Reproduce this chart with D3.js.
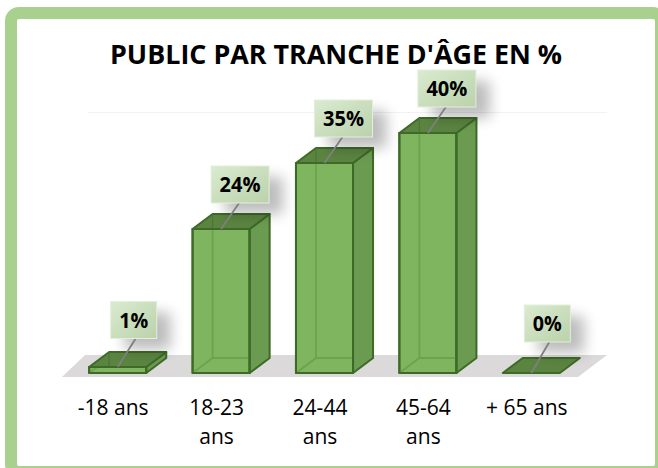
<!DOCTYPE html>
<html><head><meta charset="utf-8">
<script src="https://cdnjs.cloudflare.com/ajax/libs/d3/7.8.5/d3.min.js"></script>
<style>html,body{margin:0;padding:0;background:#fff}svg{display:block}</style>
</head><body><div id="chart"></div>
<script>
const titleText = "PUBLIC PAR TRANCHE D'ÂGE EN %";
const categories = ["-18 ans", "18-23 ans", "24-44 ans", "45-64 ans", "+ 65 ans"];
const categoryLines = [["-18 ans"], ["18-23", "ans"], ["24-44", "ans"], ["45-64", "ans"], ["+ 65 ans"]];
const values = [1, 24, 35, 40, 0];
const gridTicks = [40];

const W = 658, H = 468, dx = 20, dy = 15;
const FONT = "'Open Sans', 'Noto Sans', sans-serif";

const svg = d3.select("#chart").append("svg").attr("width", W).attr("height", H);
const defs = svg.append("defs");
const grad = defs.append("linearGradient").attr("id", "boxFill")
  .attr("x1", 0).attr("y1", 0).attr("x2", 1).attr("y2", 1);
grad.append("stop").attr("offset", 0).attr("stop-color", "#DAEBD0");
grad.append("stop").attr("offset", 1).attr("stop-color", "#BAD2AB");
const blur = defs.append("filter").attr("id", "soft")
  .attr("x", "-80%").attr("y", "-80%").attr("width", "260%").attr("height", "260%");
blur.append("feGaussianBlur").attr("stdDeviation", 7);

// frame
svg.append("rect").attr("x", 11).attr("y", 13).attr("width", 650).attr("height", 459).attr("rx", 8)
  .attr("fill", "#fff").attr("stroke", "#A9D18E").attr("stroke-width", 12);

const x = d3.scaleBand().domain(categories).range([66, 583]).paddingInner(0.448).paddingOuter(0.224);
const y = d3.scaleLinear().domain([0, 40]).range([373, 133]);
const bw = x.bandwidth();

// title
svg.append("text").attr("x", 336).attr("y", 64).attr("text-anchor", "middle")
  .attr("font-family", FONT).attr("font-weight", 700).attr("font-size", 27)
  .attr("textLength", 452).attr("lengthAdjust", "spacingAndGlyphs")
  .attr("fill", "#000").text(titleText);

// gridline on the back wall
svg.append("g").selectAll("line").data(gridTicks).join("line")
  .attr("x1", 88).attr("x2", 607)
  .attr("y1", d => y(d) - 20.5).attr("y2", d => y(d) - 20.5)
  .attr("stroke", "#F2F2F2").attr("stroke-width", 1);

// floor
const fy = y(0);
svg.append("path")
  .attr("d", `M62,${fy + 4}L85,${fy - 18}L607,${fy - 18}L578,${fy + 4}Z`)
  .attr("fill", "#DBD9DA");

const STROKE = "#3D6A27";
const bars = svg.append("g").selectAll("g").data(categories).join("g");
bars.each(function (c, i) {
  const g = d3.select(this), v = values[i];
  const x0 = x(c), x1 = x0 + bw, yt = y(v), yb = y(0);
  const face = (pts, fill, stroke = STROKE, sw = 2) => g.append("path")
    .attr("d", "M" + pts.map(p => p.join(",")).join("L") + "Z")
    .attr("fill", fill).attr("stroke", stroke).attr("stroke-width", sw)
    .attr("stroke-linejoin", "round");
  if (v === 0) {
    face([[x0, yb], [x0 + dx, yb - dy], [x1 + dx, yb - dy], [x1, yb]], "#5B8441");
    return;
  }
  // inside edges seen through the glassy front
  face([[x0, yb], [x1, yb], [x1, yt], [x0, yt]], "#7FB55E");
  const inner = "#6AA34B";
  const line = (a, b, col, sw = 1.8) => g.append("line")
    .attr("x1", a[0]).attr("y1", a[1]).attr("x2", b[0]).attr("y2", b[1])
    .attr("stroke", col).attr("stroke-width", sw);
  line([x0 + dx, yb - dy], [x0 + dx, yt], inner);
  line([x0 + dx, yb - dy], [x1, yb - dy], inner);
  line([x0, yb], [x0 + dx, yb - dy], inner);
  face([[x1, yb], [x1 + dx, yb - dy], [x1 + dx, yt - dy], [x1, yt]], "#6B9B50");
  face([[x0, yt], [x0 + dx, yt - dy], [x1 + dx, yt - dy], [x1, yt]], "#5B8441");
  line([x0 + dx, yt - dy], [x0 + dx, yt], "#4C7435", 1.2);
  face([[x0, yb], [x1, yb], [x1, yt], [x0, yt]], "none");
});

// data labels with leader lines
const boxH = 37;
const boxW = v => (v >= 10 ? 58 : 46);
const lift = v => (v >= 10 ? 26 : v > 0 ? 28.5 : 31);
const labels = svg.append("g").selectAll("g").data(categories).join("g");
labels.each(function (c, i) {
  const g = d3.select(this), v = values[i];
  const cx = x(c) + bw / 2, top = y(v);
  const bcx = cx + 19 + (v >= 10 ? 0 : -3), by = top - lift(v);
  const w = boxW(v);
  g.append("rect").attr("x", bcx - w / 2 + 14).attr("y", by - boxH + 11)
    .attr("width", w).attr("height", boxH)
    .attr("fill", "#000").attr("opacity", 0.26).attr("filter", "url(#soft)");
  g.append("line").attr("x1", cx).attr("y1", top).attr("x2", cx + 18).attr("y2", by)
    .attr("stroke", "#7F7F7F").attr("stroke-width", 1.8);
  g.append("rect").attr("x", bcx - w / 2).attr("y", by - boxH)
    .attr("width", w).attr("height", boxH)
    .attr("fill", "url(#boxFill)").attr("stroke", "#E2EFDA").attr("stroke-width", 1);
  g.append("text").attr("x", bcx).attr("y", by - boxH / 2 + 7.5)
    .attr("text-anchor", "middle").attr("font-family", FONT)
    .attr("font-weight", 700).attr("font-size", 21)
    .attr("textLength", v >= 10 ? 41 : 29).attr("lengthAdjust", "spacingAndGlyphs")
    .attr("fill", "#000").text(v + "%");
});

// category axis
const axis = svg.append("g").attr("transform", `translate(-4.5,${fy})`)
  .call(d3.axisBottom(x).tickSize(0).tickPadding(0));
axis.select(".domain").remove();
axis.selectAll(".tick text").each(function (c, i) {
  const t = d3.select(this).text(null)
    .attr("font-family", FONT).attr("font-size", 21).attr("fill", "#000").attr("y", 0).attr("dy", 0);
  categoryLines[i].forEach((ln, k) => {
    t.append("tspan").attr("x", 0).attr("y", 42 + k * 29).text(ln);
  });
});
</script>
</body></html>
